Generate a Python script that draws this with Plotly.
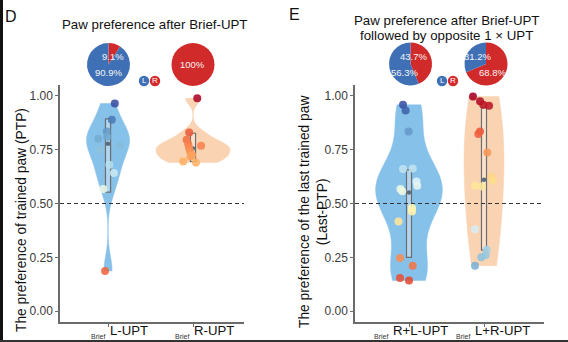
import numpy as np
import plotly.graph_objects as go

W, H = 568, 342

# ---------------- data ----------------
# Panel D: paw preference of the trained paw (PTP) after Brief-UPT
d_groups = ["L-UPT", "R-UPT"]
d_trained_paw = ["L", "R"]
ptp_brief_L = [0.964, 0.889, 0.834, 0.810, 0.800, 0.768, 0.749, 0.680, 0.642, 0.567, 0.187]
ptp_brief_R = [0.988, 0.830, 0.796, 0.775, 0.768, 0.757, 0.742, 0.725, 0.718, 0.695, 0.690]
jitter_brief_L = [0.08, 0.045, -0.015, -0.01, -0.115, 0.14, -0.094, 0.015, 0.07, -0.055, -0.035]
jitter_brief_R = [0.05, -0.045, -0.075, -0.055, 0.095, -0.045, -0.035, -0.01, -0.03, -0.115, 0.035]
d_q1 = [0.553, 0.695]
d_median = [0.777, 0.755]
d_q3 = [0.893, 0.826]
d_pct_left = [90.9, 0.0]
d_pct_right = [9.1, 100.0]

# Panel E: preference of the last trained paw after Brief-UPT + opposite 1 x UPT
e_groups = ["R+L-UPT", "L+R-UPT"]
e_trained_paw = ["L", "R"]
last_ptp_RL = [0.958, 0.932, 0.834, 0.663, 0.660, 0.602, 0.582, 0.567, 0.557, 0.479,
               0.463, 0.417, 0.247, 0.211, 0.154, 0.143]
last_ptp_LR = [0.997, 0.974, 0.958, 0.954, 0.834, 0.822, 0.737, 0.623, 0.607, 0.582,
               0.579, 0.381, 0.285, 0.261, 0.250, 0.211]
jitter_RL = [-0.08, -0.045, -0.005, 0.05, -0.08, 0.10, 0.11, -0.115, -0.09, 0.04,
             0.04, -0.14, -0.12, 0.05, -0.12, 0.0]
jitter_LR = [-0.147, -0.053, -0.01, 0.067, -0.053, -0.076, 0.044, 0.10, 0.12, -0.12,
             -0.03, -0.12, 0.036, 0.023, -0.036, -0.12]
e_q1 = [0.250, 0.284]
e_median = [0.551, 0.610]
e_q3 = [0.656, 0.944]
e_pct_left = [56.3, 31.2]
e_pct_right = [43.7, 68.8]

# ---------------- styles ----------------
FONT = "Liberation Sans"
BLUE_PIE = "#3f70b6"
RED_PIE = "#d12a2a"
VIOLIN_FILL = {"L": "#86c1ea", "R": "#f9d3b2"}
AXIS_COLOR = "#6b6b6b"


def px_x(p):
    return p / W


def px_y(p):
    return 1 - p / H


def nrd0(v):
    v = np.asarray(v)
    sd = v.std(ddof=1)
    iqr = np.subtract(*np.percentile(v, [75, 25]))
    return 0.9 * min(sd, iqr / 1.34) * len(v) ** -0.2


def left_pref(values, paw):
    v = np.asarray(values)
    return v if paw == "L" else 1 - v


fig = go.Figure()


def add_panel(xa, ya, samples, jitters, paws, widths, bw_adjust, q1, med, q3, box_w):
    for i, (vals, paw, w, adj) in enumerate(zip(samples, paws, widths, bw_adjust)):
        pos = i + 1
        fig.add_trace(go.Violin(
            x0=pos, y=vals, width=w, spanmode="hard", bandwidth=adj * nrd0(vals),
            scalemode="width", fillcolor=VIOLIN_FILL[paw],
            line=dict(color=VIOLIN_FILL[paw], width=0.5), opacity=1,
            points=False, box_visible=False, meanline_visible=False,
            hoverinfo="skip", showlegend=False, xaxis=xa, yaxis=ya))
    fig.add_trace(go.Box(
        x=[1, 2], q1=q1, median=med, q3=q3, lowerfence=q1, upperfence=q3,
        width=box_w, whiskerwidth=0, boxpoints=False,
        line=dict(color="#6e6e6e", width=1.2), fillcolor="rgba(255,255,255,0.35)",
        hoverinfo="skip", showlegend=False, xaxis=xa, yaxis=ya))
    fig.add_trace(go.Scatter(
        x=[1, 2], y=med, mode="markers",
        marker=dict(size=4.5, color="#5a6d80"),
        hoverinfo="skip", showlegend=False, xaxis=xa, yaxis=ya))
    for i, (vals, jit, paw) in enumerate(zip(samples, jitters, paws)):
        pos = i + 1
        fig.add_trace(go.Scatter(
            x=pos + np.asarray(jit), y=vals, mode="markers",
            marker=dict(size=8, color=left_pref(vals, paw), colorscale="RdYlBu",
                        cmin=0, cmax=1, opacity=0.88, line=dict(width=0),
                        showscale=False),
            hoverinfo="skip", showlegend=False, xaxis=xa, yaxis=ya))


add_panel("x", "y", [ptp_brief_L, ptp_brief_R], [jitter_brief_L, jitter_brief_R],
          d_trained_paw, [0.506, 0.87], [1.0, 1.0], d_q1, d_median, d_q3, 0.06)
add_panel("x2", "y2", [last_ptp_RL, last_ptp_LR], [jitter_RL, jitter_LR],
          e_trained_paw, [0.89, 0.533], [1.0, 1.7], e_q1, e_median, e_q3, 0.067)

# pies: share of animals preferring the left (blue) / right (red) paw
pie_centers = [(108.5, 64.5), (193.0, 64.5), (410.5, 64.0), (486.0, 64.0)]
pie_r = 21.5
pct_left = d_pct_left + e_pct_left
pct_right = d_pct_right + e_pct_right
for (cx, cy), pl, pr in zip(pie_centers, pct_left, pct_right):
    fig.add_trace(go.Pie(
        values=[pr, pl], marker=dict(colors=[RED_PIE, BLUE_PIE], line=dict(width=0)),
        sort=False, direction="clockwise", rotation=0, textinfo="none",
        hoverinfo="skip", showlegend=False,
        domain=dict(x=[px_x(cx - pie_r), px_x(cx + pie_r)],
                    y=[px_y(cy + pie_r), px_y(cy - pie_r)])))

annotations = []
# pie labels (left share, right share) at fixed spots inside each pie
pie_label_spots = [
    ((108, 72), (113, 56)),
    (None, (192, 65)),
    ((404, 72), (413, 57)),
    ((477, 57), (492, 72)),
]
for (pl, pr), spots in zip(zip(pct_left, pct_right), pie_label_spots):
    for val, spot in zip((pl, pr), spots):
        if val <= 0 or spot is None:
            continue
        annotations.append(dict(
            text=f"{val:g}%", x=px_x(spot[0]), y=px_y(spot[1]),
            xanchor="center", yanchor="middle",
            font=dict(family=FONT, size=9.5, color="#f4f4f4")))

# L / R key circles
shapes = []
for (cx, cy, col, lab) in [(144, 81, BLUE_PIE, "L"), (155, 81, RED_PIE, "R"),
                           (442, 81, BLUE_PIE, "L"), (453, 81, RED_PIE, "R")]:
    shapes.append(dict(type="circle", xref="paper", yref="paper",
                       x0=px_x(cx - 5.2), x1=px_x(cx + 5.2), y0=px_y(cy + 5.2), y1=px_y(cy - 5.2),
                       fillcolor=col, line=dict(width=0)))
    annotations.append(dict(text=lab, x=px_x(cx), y=px_y(cy),
                            xanchor="center", yanchor="middle",
                            font=dict(family=FONT, size=8, color="white")))

# titles and panel letters
annotations += [
    dict(text="D", x=px_x(3), y=px_y(16), xanchor="left", yanchor="middle",
         font=dict(family=FONT, size=16, color="#111")),
    dict(text="E", x=px_x(287), y=px_y(14), xanchor="left", yanchor="middle",
         font=dict(family=FONT, size=16, color="#111")),
    dict(text="Paw preference after Brief-UPT", x=px_x(155), y=px_y(25),
         xanchor="center", yanchor="middle", font=dict(family=FONT, size=13.3, color="#111")),
    dict(text="Paw preference after Brief-UPT", x=px_x(446.5), y=px_y(21),
         xanchor="center", yanchor="middle", font=dict(family=FONT, size=13.3, color="#111")),
    dict(text="followed by opposite 1 × UPT", x=px_x(446.5), y=px_y(35.5),
         xanchor="center", yanchor="middle", font=dict(family=FONT, size=13.3, color="#111")),
    dict(text="The preference of trained paw (PTP)", x=px_x(21), y=px_y(220), textangle=-90,
         xanchor="center", yanchor="middle", font=dict(family=FONT, size=13.8, color="#111")),
    dict(text="The preference of the last trained paw<br>(Last-PTP)", x=px_x(313), y=px_y(212),
         textangle=-90, xanchor="center", yanchor="middle",
         font=dict(family=FONT, size=13.8, color="#111")),
]
for a in annotations:
    a.setdefault("xref", "paper")
    a.setdefault("yref", "paper")
    a.setdefault("showarrow", False)

# category labels with "Brief" subscript
for xref, groups, shifts in (("x", d_groups, [0, -1]), ("x2", e_groups, [-18, -11])):
    for i, (g, s) in enumerate(zip(groups, shifts)):
        annotations.append(dict(text=g, x=i + 1, xref=xref, y=px_y(330.5), yref="paper",
                                xanchor="left", yanchor="middle", xshift=s, showarrow=False,
                                font=dict(family=FONT, size=13.2, color="#111")))
        annotations.append(dict(text="Brief", x=i + 1, xref=xref, y=px_y(336.5), yref="paper",
                                xanchor="right", yanchor="middle", xshift=s - 1, showarrow=False,
                                font=dict(family=FONT, size=7, color="#333")))

# chance level
for xd, yr in (("x domain", "y"), ("x2 domain", "y2")):
    shapes.append(dict(type="line", xref=xd, yref=yr, x0=0, x1=1, y0=0.5, y1=0.5,
                       line=dict(color="#333", width=1, dash="4px,3px")))

# frame edges
shapes.append(dict(type="rect", xref="paper", yref="paper", x0=0, x1=px_x(3),
                   y0=px_y(341), y1=1, fillcolor="#111", line=dict(width=0)))
shapes.append(dict(type="line", xref="paper", yref="paper", x0=0, x1=1,
                   y0=px_y(341), y1=px_y(341), line=dict(color="#333", width=2)))

yaxis_style = dict(range=[-0.05, 1.05], tickvals=[0, 0.25, 0.5, 0.75, 1.0], tickformat=".2f",
                   showline=True, linecolor=AXIS_COLOR, linewidth=1.5, ticks="outside",
                   ticklen=3, tickcolor=AXIS_COLOR, showgrid=False, zeroline=False,
                   tickfont=dict(family=FONT, size=12, color="#3a3a3a"),
                   domain=[px_y(322), px_y(85)])
xaxis_style = dict(tickvals=[1, 2], ticktext=["", ""], showline=True, linecolor=AXIS_COLOR,
                   linewidth=1.5, ticks="outside", ticklen=3, tickcolor=AXIS_COLOR,
                   showgrid=False, zeroline=False)

fig.update_layout(
    width=W, height=H, margin=dict(l=0, r=0, t=0, b=0),
    paper_bgcolor="white", plot_bgcolor="white", showlegend=False,
    violinmode="overlay", boxmode="overlay",
    xaxis=dict(xaxis_style, domain=[px_x(60), px_x(244)], range=[0.435, 2.6], anchor="y"),
    yaxis=dict(yaxis_style, anchor="x"),
    xaxis2=dict(xaxis_style, domain=[px_x(355), px_x(544)], range=[0.28, 2.8], anchor="y2"),
    yaxis2=dict(yaxis_style, anchor="x2"),
    annotations=annotations, shapes=shapes,
)

fig.write_html("out.html")
